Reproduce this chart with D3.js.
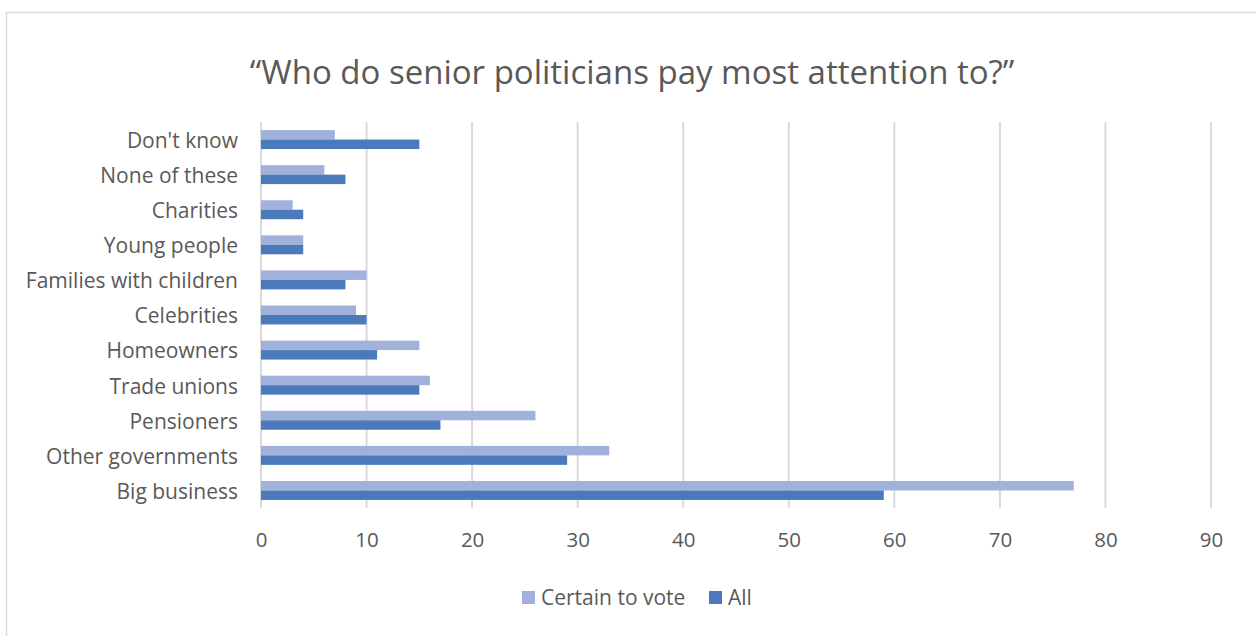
<!DOCTYPE html>
<html>
<head>
<meta charset="utf-8">
<script src="https://cdn.jsdelivr.net/npm/d3@7"></script>
<style>
  html, body { margin: 0; padding: 0; background: #fff; }
  svg { display: block; font-family: "Open Sans", Lato, sans-serif; }
</style>
</head>
<body>
<div id="chart"></div>
<script>
// Données
const categories = ["Don't know", "None of these", "Charities", "Young people", "Families with children",
  "Celebrities", "Homeowners", "Trade unions", "Pensioners", "Other governments", "Big business"];
const certainToVote = [7, 6, 3, 4, 10, 9, 15, 16, 26, 33, 77];
const allRespondents = [15, 8, 4, 4, 8, 10, 11, 15, 17, 29, 59];
const xTicks = [0, 10, 20, 30, 40, 50, 60, 70, 80, 90];
const seriesNames = ["Certain to vote", "All"];
const seriesColors = ["#a0b1db", "#4a79bc"];

const width = 1256, height = 636;
const margin = { left: 261, right: 45, top: 122, bottom: 128 };
const font = "'Open Sans', Lato, sans-serif";

const svg = d3.select("#chart").append("svg")
  .attr("width", width)
  .attr("height", height);

// cadre
svg.append("rect")
  .attr("x", 6.5).attr("y", 12.5)
  .attr("width", width).attr("height", height)
  .attr("fill", "#fff")
  .attr("stroke", "#d9d9d9")
  .attr("stroke-width", 1.5);

// titre
svg.append("text")
  .attr("x", 632).attr("y", 84)
  .attr("text-anchor", "middle")
  .attr("fill", "#595959")
  .attr("font-size", 33)
  .text("“Who do senior politicians pay most attention to?”");

// échelles
const x = d3.scaleLinear().domain([0, 90]).range([margin.left, width - margin.right]);
const y = d3.scaleBand().domain(categories).range([margin.top, height - margin.bottom]).paddingInner(0.46).paddingOuter(0.23);
const ySub = d3.scaleBand().domain(seriesNames).range([0, y.bandwidth()]);

// grille
svg.append("g")
  .selectAll("line")
  .data(xTicks)
  .join("line")
  .attr("x1", d => x(d)).attr("x2", d => x(d))
  .attr("y1", margin.top).attr("y2", height - margin.bottom)
  .attr("stroke", "#d9d9d9")
  .attr("stroke-width", 2);

// axe X
const xAxis = svg.append("g")
  .attr("transform", `translate(0, ${height - margin.bottom})`)
  .call(d3.axisBottom(x).tickValues(xTicks).tickSize(0).tickPadding(24));
xAxis.select(".domain").remove();
xAxis.selectAll("text").attr("fill", "#595959").attr("font-size", 20.5).attr("font-family", font);

// axe Y
const yAxis = svg.append("g")
  .attr("transform", `translate(${margin.left}, 0)`)
  .call(d3.axisLeft(y).tickSize(0).tickPadding(23));
yAxis.select(".domain").remove();
yAxis.selectAll("text").attr("fill", "#595959").attr("font-size", 21).attr("font-family", font)
  .attr("dy", "0.4em");

// barres
const rows = categories.map((c, i) => ({ cat: c, values: [certainToVote[i], allRespondents[i]] }));
const groups = svg.append("g").selectAll("g")
  .data(rows)
  .join("g")
  .attr("transform", d => `translate(0, ${y(d.cat)})`);
groups.selectAll("rect")
  .data(d => d.values.map((v, j) => ({ name: seriesNames[j], v, j })))
  .join("rect")
  .attr("x", x(0))
  .attr("y", d => ySub(d.name))
  .attr("width", d => x(d.v) - x(0))
  .attr("height", ySub.bandwidth())
  .attr("fill", d => seriesColors[d.j]);

// légende
const legendItems = [{ name: seriesNames[0], x: 522 }, { name: seriesNames[1], x: 709 }];
const legend = svg.append("g").selectAll("g")
  .data(legendItems)
  .join("g")
  .attr("transform", d => `translate(${d.x}, 591)`);
legend.append("rect")
  .attr("width", 13).attr("height", 13)
  .attr("fill", (d, i) => seriesColors[i]);
legend.append("text")
  .attr("x", 19).attr("y", 14)
  .attr("fill", "#595959")
  .attr("font-size", 21)
  .text(d => d.name);
</script>
</body>
</html>
